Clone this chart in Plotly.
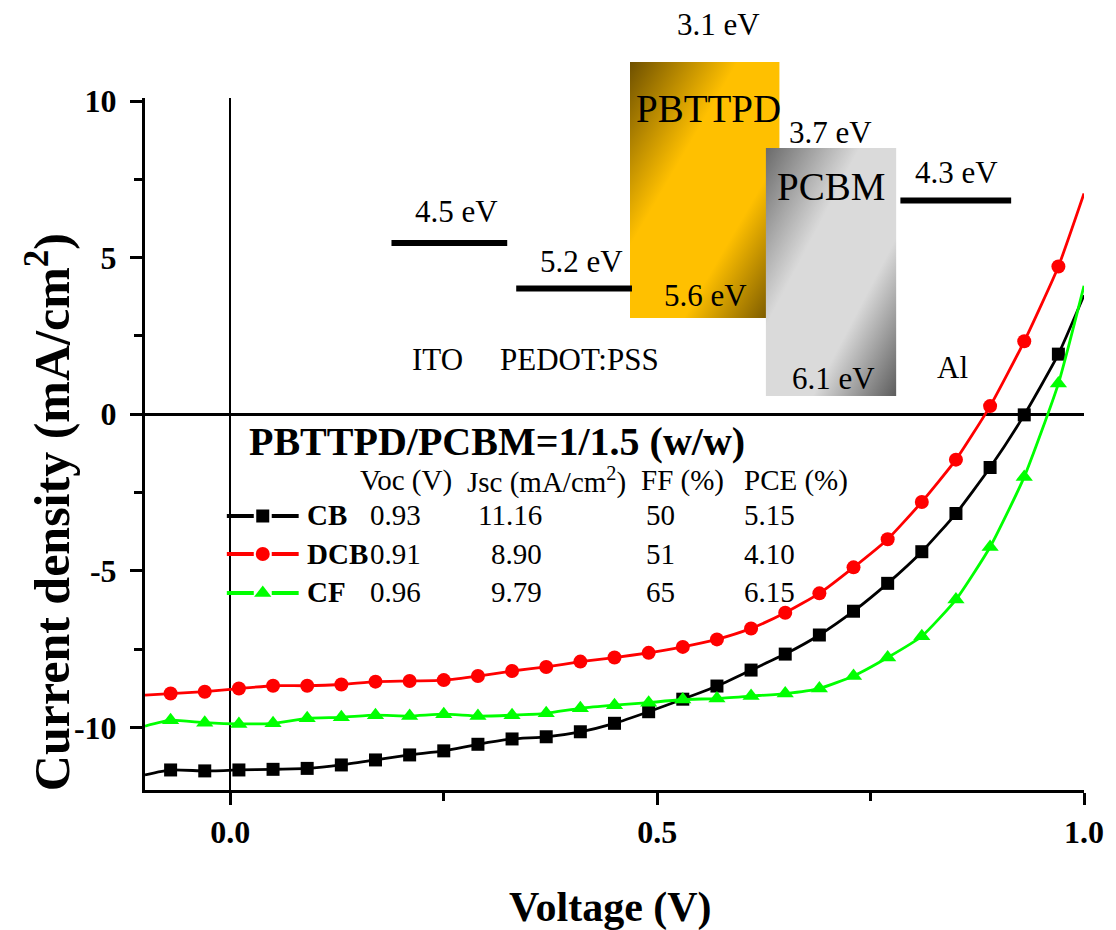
import base64
import plotly.graph_objects as go

# ---------------- data ----------------
voltage_marks = [-0.07, -0.03, 0.01, 0.05, 0.09, 0.13, 0.17, 0.21, 0.25, 0.29,
                 0.33, 0.37, 0.41, 0.45, 0.49, 0.53, 0.57, 0.61, 0.65, 0.69,
                 0.73, 0.77, 0.81, 0.85, 0.89, 0.93, 0.97]
voltage_ends = [-0.10, 1.00]

cb_marks = [-11.36, -11.39, -11.36, -11.34, -11.31, -11.20, -11.04, -10.88, -10.75, -10.54,
            -10.37, -10.30, -10.14, -9.87, -9.50, -9.10, -8.68, -8.17, -7.66, -7.05,
            -6.29, -5.40, -4.39, -3.17, -1.70, -0.02, 1.92]
cb_ends = [-11.52, 3.80]

dcb_marks = [-8.92, -8.86, -8.76, -8.67, -8.67, -8.63, -8.54, -8.52, -8.49, -8.36,
             -8.20, -8.07, -7.90, -7.77, -7.62, -7.43, -7.19, -6.84, -6.34, -5.72,
             -4.89, -3.99, -2.80, -1.45, 0.26, 2.33, 4.72]
dcb_ends = [-8.97, 7.05]

cf_marks = [-9.77, -9.85, -9.89, -9.87, -9.71, -9.68, -9.61, -9.64, -9.58, -9.64,
            -9.61, -9.55, -9.39, -9.29, -9.21, -9.11, -9.08, -9.00, -8.92, -8.76,
            -8.36, -7.77, -7.09, -5.92, -4.24, -2.00, 0.98]
cf_ends = [-9.96, 4.10]

series_names = ["CB", "DCB", "CF"]
voc_values = ["0.93", "0.91", "0.96"]
jsc_values = ["11.16", "8.90", "9.79"]
ff_values = ["50", "51", "65"]
pce_values = ["5.15", "4.10", "6.15"]

x_tickvals = [0.0, 0.5, 1.0]
x_ticktext = ["0.0", "0.5", "1.0"]
y_tickvals = [10, 5, 0, -5, -10]
y_ticktext = ["10", "5", "0", "-5", "-10"]

# ---------------- styling ----------------
# the page body has an 8px margin: lay out in window pixels, shifted by OFF
OFF = 8
W, H = 1116 - OFF, 930 - OFF
ML, MR, MT, MB = 145 - OFF, 30, 98 - OFF, 140
PW, PH = W - ML - MR, H - MT - MB
SERIF = "Liberation Serif, Times New Roman, serif"
colors = ["#000000", "#ff0000", "#00ff00"]
symbols = ["square", "circle", "triangle-up"]
msizes = [13, 14, 15]


def fx(p):
    return (p - OFF - ML) / PW


def fy(p):
    return (MT + PH - (p - OFF)) / PH


fig = go.Figure()

all_marks = [cb_marks, dcb_marks, cf_marks]
all_ends = [cb_ends, dcb_ends, cf_ends]
for name, m, e, c, s, ms in zip(series_names, all_marks, all_ends, colors, symbols, msizes):
    xs = [voltage_ends[0]] + voltage_marks + [voltage_ends[1]]
    ys = [e[0]] + m + [e[1]]
    sizes = [0] + [ms] * len(m) + [0]
    fig.add_trace(go.Scatter(
        x=xs, y=ys, mode="lines+markers", name=name,
        line=dict(color=c, width=2.8, shape="spline", smoothing=0.5),
        marker=dict(symbol=s, size=sizes, color=c, opacity=1, line=dict(width=0)),
        cliponaxis=True, showlegend=False))

# legend samples on an overlay axis spanning the plot area (0..1)
row_y = [516, 554, 593]
for i, (c, s, ms) in enumerate(zip(colors, symbols, msizes)):
    yy = fy(row_y[i])
    fig.add_trace(go.Scatter(
        x=[fx(227), fx(254), None, fx(272), fx(299)], y=[yy, yy, None, yy, yy],
        mode="lines", line=dict(color=c, width=4), xaxis="x2", yaxis="y2",
        showlegend=False, hoverinfo="skip"))
    fig.add_trace(go.Scatter(
        x=[fx(263)], y=[yy], mode="markers",
        marker=dict(symbol=s, size=ms, color=c, opacity=1, line=dict(width=0)),
        xaxis="x2", yaxis="y2", showlegend=False, hoverinfo="skip"))

annotations = []


def txt(text, x, y, size, bold=False, xanchor="center", yanchor="middle", angle=0):
    annotations.append(dict(
        text=text, x=fx(x), y=fy(y), xref="paper", yref="paper",
        xanchor=xanchor, yanchor=yanchor, showarrow=False, textangle=angle,
        font=dict(family=SERIF, size=size, color="black",
                  weight="bold" if bold else "normal")))


# axis titles
txt("Current density (mA/cm<sup>2</sup>)", 48, 512, 50, bold=True, angle=-90)
txt("Voltage (V)", 611, 907, 42, bold=True)

# energy diagram texts
EV = 31
txt("3.1 eV", 720, 24, EV)
txt("PBTTPD", 710, 109, 39)
txt("3.7 eV", 832, 132, EV)
txt("PCBM", 832, 186, 39)
txt("4.3 eV", 958, 172, EV)
txt("4.5 eV", 457, 212, EV)
txt("5.2 eV", 582, 261, EV)
txt("5.6 eV", 707, 295, EV)
txt("6.1 eV", 835, 378, EV)
txt("ITO", 438, 359, EV)
txt("PEDOT:PSS", 580, 359, EV)
txt("Al", 954, 367, EV)

# table
txt("PBTTPD/PCBM=1/1.5 (w/w)", 247, 441, 40, bold=True, xanchor="left")
txt("Voc (V)", 358, 480, 29, xanchor="left")
txt("Jsc (mA/cm<sup>2</sup>)", 466, 480, 29, xanchor="left")
txt("FF (%)", 640, 480, 29, xanchor="left")
txt("PCE (%)", 743, 480, 29, xanchor="left")
for i in range(3):
    yc = [515, 554, 592][i]
    txt(series_names[i], 305, yc, 29, bold=True, xanchor="left")
    txt(voc_values[i], 424, yc, 29, xanchor="right")
    txt(jsc_values[i], 545, yc, 29, xanchor="right")
    txt(ff_values[i], 662, yc, 29)
    txt(pce_values[i], 743, yc, 29, xanchor="left")

# energy level bars
shapes = []
for (x0, x1, y) in [(392, 508, 243), (517, 633, 288.5), (902, 1013, 200.5)]:
    shapes.append(dict(type="line", xref="paper", yref="paper",
                       x0=fx(x0), x1=fx(x1), y0=fy(y), y1=fy(y),
                       line=dict(color="black", width=6)))


def grad_svg(c_dark1, c_light, c_dark2):
    svg = ("<svg xmlns='http://www.w3.org/2000/svg' width='100' height='100' "
           "viewBox='0 0 100 100' preserveAspectRatio='none'><defs>"
           "<linearGradient id='g' x1='0' y1='0' x2='1' y2='1'>"
           f"<stop offset='0' stop-color='{c_dark1}'/>"
           f"<stop offset='0.36' stop-color='{c_light}'/>"
           f"<stop offset='0.68' stop-color='{c_light}'/>"
           f"<stop offset='1' stop-color='{c_dark2}'/>"
           "</linearGradient></defs><rect x='0' y='0' width='100' height='100' fill='url(#g)'/></svg>")
    return "data:image/svg+xml;base64," + base64.b64encode(svg.encode()).decode()


images = []
for (x0, x1, y0, y1, cols) in [(631, 781, 62, 318, ("#6e5000", "#ffc000", "#6a4d00")),
                               (767, 898, 148, 396, ("#6a6a6a", "#dadada", "#5c5c5c"))]:
    images.append(dict(source=grad_svg(*cols), xref="paper", yref="paper",
                       x=fx(x0), y=fy(y0), sizex=(x1 - x0) / PW, sizey=(y1 - y0) / PH,
                       xanchor="left", yanchor="top", sizing="stretch", layer="above"))

tickfont = dict(family=SERIF, size=32, color="black", weight="bold")
fig.update_layout(
    width=W, height=H, margin=dict(l=ML, r=MR, t=MT, b=MB),
    paper_bgcolor="white", plot_bgcolor="white", showlegend=False,
    xaxis=dict(range=[-0.1, 1.0], showgrid=False, zeroline=True, zerolinecolor="black",
               zerolinewidth=2, showline=True, linecolor="black", linewidth=3,
               ticks="outside", ticklen=12, tickwidth=3, tickcolor="black",
               tickvals=x_tickvals, ticktext=x_ticktext, tickfont=tickfont,
               minor=dict(dtick=0.25, tick0=0, ticks="outside", ticklen=8, tickwidth=3,
                          tickcolor="black", showgrid=False)),
    yaxis=dict(range=[-12, 10.1], showgrid=False, zeroline=True, zerolinecolor="black",
               zerolinewidth=3, showline=True, linecolor="black", linewidth=3,
               ticks="outside", ticklen=12, tickwidth=3, tickcolor="black",
               ticklabelstandoff=7,
               tickvals=y_tickvals, ticktext=y_ticktext, tickfont=tickfont,
               minor=dict(dtick=2.5, tick0=0, ticks="outside", ticklen=8, tickwidth=3,
                          tickcolor="black", showgrid=False)),
    xaxis2=dict(range=[0, 1], overlaying="x", anchor="y2", visible=False, fixedrange=True),
    yaxis2=dict(range=[0, 1], overlaying="y", anchor="x2", visible=False, fixedrange=True),
    annotations=annotations, shapes=shapes, images=images,
)

fig.write_html("out.html")
